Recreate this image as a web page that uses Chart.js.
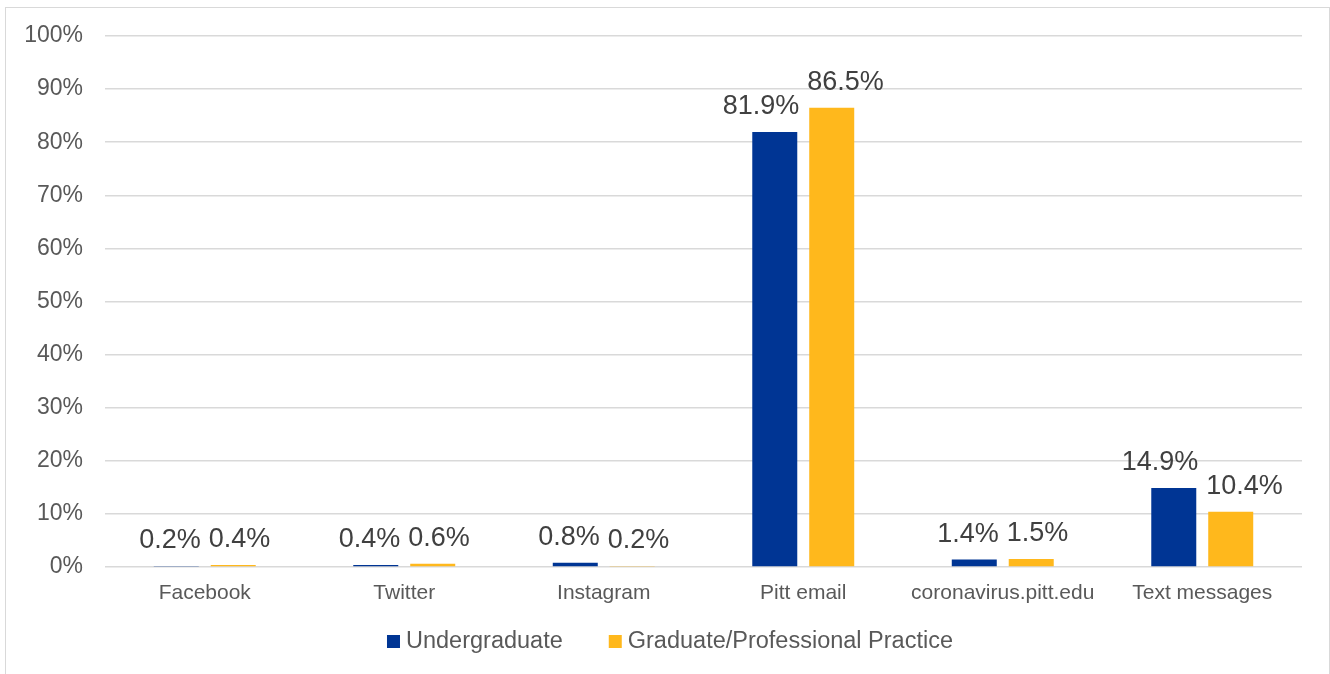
<!DOCTYPE html>
<html>
<head>
<meta charset="utf-8">
<title>Sources of COVID-19 information</title>
<script src="https://cdn.jsdelivr.net/npm/chart.js@4.4.1/dist/chart.umd.min.js"></script>
<style>
    html, body { margin: 0; padding: 0; background: #fff; overflow: hidden; }
    #frame {
        position: absolute; left: 5px; top: 7px; width: 1323px; height: 700px;
        border: 1px solid #d9d9d9; box-sizing: content-box;
    }
    #chart { position: absolute; left: 0; top: 0; }
</style>
</head>
<body>
<div id="frame"></div>
<canvas id="chart" width="1330" height="674"></canvas>
<script>
const categories = ["Facebook", "Twitter", "Instagram", "Pitt email", "coronavirus.pitt.edu", "Text messages"];
const undergraduate = [0.2, 0.4, 0.8, 81.9, 1.4, 14.9];
const graduate = [0.4, 0.6, 0.2, 86.5, 1.5, 10.4];
const seriesNames = ["Undergraduate", "Graduate/Professional Practice"];
const yTicks = [0, 10, 20, 30, 40, 50, 60, 70, 80, 90, 100];

const FONT = "'Liberation Sans', Arial, Helvetica, sans-serif";
const TEXT_GREY = "#595959";

// value labels above each bar, pushed apart when the pair would collide
const barLabels = {
    id: "barLabels",
    afterDatasetsDraw(chart) {
        const ctx = chart.ctx;
        ctx.save();
        ctx.font = "27px " + FONT;
        ctx.fillStyle = "#404040";
        ctx.textAlign = "center";
        ctx.textBaseline = "alphabetic";
        const first = chart.getDatasetMeta(0).data;
        const second = chart.getDatasetMeta(1).data;
        categories.forEach((c, j) => {
            const t1 = undergraduate[j].toFixed(1) + "%";
            const t2 = graduate[j].toFixed(1) + "%";
            const w1 = ctx.measureText(t1).width;
            const w2 = ctx.measureText(t2).width;
            let x1 = first[j].x, x2 = second[j].x;
            const need = w1 / 2 + w2 / 2 + 8;
            if (x2 - x1 < need) {
                const push = (need - (x2 - x1)) / 2;
                x1 -= push;
                x2 += push;
            }
            ctx.fillText(t1, x1, first[j].y - 18);
            ctx.fillText(t2, x2, second[j].y - 18);
        });
        ctx.restore();
    }
};

// legend drawn by hand so the spacing matches the original
const bottomLegend = {
    id: "bottomLegend",
    afterDraw(chart) {
        const ctx = chart.ctx;
        ctx.save();
        ctx.font = "23.5px " + FONT;
        ctx.textBaseline = "middle";
        ctx.textAlign = "left";
        const box = 13, gap = 6, between = 46, midY = 642;
        const widths = chart.data.datasets.map(ds => ctx.measureText(ds.label).width);
        let total = 0;
        widths.forEach((w, i) => { total += box + gap + w + (i > 0 ? between : 0); });
        let x = 670 - total / 2;
        chart.data.datasets.forEach((ds, i) => {
            ctx.fillStyle = ds.backgroundColor;
            ctx.fillRect(x, midY - 7, box, box);
            ctx.fillStyle = TEXT_GREY;
            ctx.fillText(ds.label, x + box + gap, midY);
            x += box + gap + widths[i] + between;
        });
        ctx.restore();
    }
};

const chart = new Chart(document.getElementById("chart"), {
    type: "bar",
    data: {
        labels: categories,
        datasets: [
            { label: seriesNames[0], data: undergraduate, backgroundColor: "#003594" },
            { label: seriesNames[1], data: graduate, backgroundColor: "#FFB81C" }
        ]
    },
    options: {
        responsive: false,
        animation: false,
        devicePixelRatio: 1,
        categoryPercentage: 0.571,
        barPercentage: 0.79,
        layout: { padding: { top: 36, right: 28, bottom: 57, left: 0 } },
        plugins: {
            legend: { display: false },
            tooltip: { enabled: false }
        },
        scales: {
            x: {
                grid: { display: false },
                border: { display: false },
                ticks: { color: TEXT_GREY, font: { family: FONT, size: 21 }, padding: 6, maxRotation: 0 },
                afterFit: (scale) => { scale.height = 50; }
            },
            y: {
                min: 0,
                max: 100,
                afterBuildTicks: (scale) => { scale.ticks = yTicks.map(v => ({ value: v })); },
                grid: { color: "#d9d9d9", lineWidth: 1.5, drawTicks: false },
                border: { display: false },
                ticks: {
                    color: TEXT_GREY,
                    font: { family: FONT, size: 23 },
                    padding: 22,
                    callback: (v) => v + "%"
                },
                afterFit: (scale) => { scale.width = 105; }
            }
        }
    },
    plugins: [barLabels, bottomLegend]
});
</script>
</body>
</html>
